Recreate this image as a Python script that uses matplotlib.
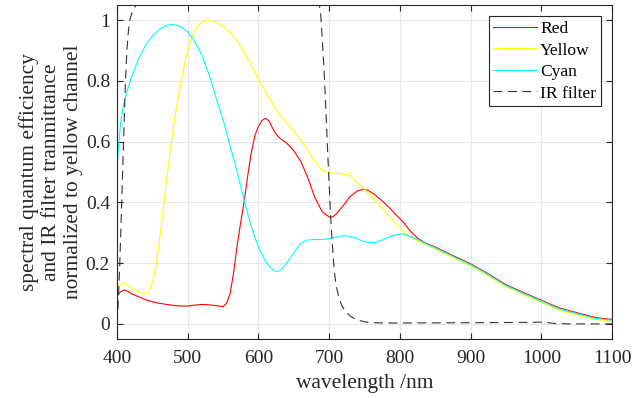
import numpy as np
import matplotlib
matplotlib.use('Agg')
import matplotlib.pyplot as plt

#region data
tail_wl = [850, 875, 900, 925, 950, 975, 1000, 1025, 1050, 1075, 1090, 1100]
tail_val = [0.250, 0.222, 0.195, 0.162, 0.126, 0.100, 0.075, 0.050, 0.034, 0.019, 0.014, 0.012]

red_wl = [400, 405, 410, 415, 420, 430, 440, 450, 460, 470, 480, 490, 500, 510, 520,
          530, 540, 550, 555, 560, 565, 570, 575, 580, 585, 590, 595, 600, 605, 610,
          615, 620, 625, 630, 640, 645, 650, 660, 670, 680, 690, 700, 705, 710, 720,
          730, 740, 748, 755, 765, 775, 785, 795, 805, 815, 825, 835]
red_val = [0.095, 0.105, 0.112, 0.108, 0.100, 0.090, 0.080, 0.073, 0.068, 0.064, 0.061,
           0.059, 0.059, 0.062, 0.064, 0.063, 0.060, 0.057, 0.068, 0.100, 0.170, 0.260,
           0.335, 0.405, 0.490, 0.565, 0.620, 0.650, 0.670, 0.677, 0.668, 0.645, 0.625,
           0.612, 0.595, 0.583, 0.570, 0.535, 0.480, 0.415, 0.370, 0.352, 0.352, 0.362,
           0.390, 0.420, 0.438, 0.443, 0.440, 0.425, 0.405, 0.383, 0.358, 0.335, 0.305,
           0.282, 0.268]

yellow_wl = [400, 405, 410, 415, 420, 430, 440, 445, 450, 455, 460, 465, 470, 475, 480,
             485, 490, 495, 500, 505, 510, 515, 520, 530, 540, 550, 560, 570, 580, 590,
             600, 610, 620, 630, 640, 650, 660, 670, 680, 690, 700, 710, 720, 730, 740,
             750, 760, 770, 780, 790, 800, 810, 820, 835]
yellow_val = [0.120, 0.130, 0.136, 0.128, 0.118, 0.105, 0.100, 0.105, 0.135, 0.190, 0.270,
              0.370, 0.470, 0.565, 0.650, 0.725, 0.790, 0.850, 0.900, 0.940, 0.967, 0.983,
              0.993, 1.000, 0.995, 0.980, 0.960, 0.932, 0.895, 0.850, 0.805, 0.765, 0.725,
              0.690, 0.660, 0.635, 0.605, 0.570, 0.535, 0.505, 0.498, 0.496, 0.494, 0.488,
              0.465, 0.443, 0.420, 0.395, 0.370, 0.340, 0.315, 0.295, 0.278, 0.263]

cyan_wl = [400, 405, 410, 420, 430, 440, 450, 460, 470, 480, 490, 500, 510, 520, 530,
           540, 550, 560, 570, 580, 590, 600, 610, 620, 626, 632, 640, 650, 660, 668,
           680, 690, 700, 710, 720, 725, 735, 745, 755, 765, 775, 785, 795, 805, 815,
           830]
cyan_val = [0.520, 0.660, 0.730, 0.810, 0.870, 0.915, 0.948, 0.970, 0.983, 0.986, 0.979,
            0.962, 0.930, 0.885, 0.823, 0.745, 0.672, 0.585, 0.500, 0.405, 0.320, 0.252,
            0.205, 0.178, 0.172, 0.178, 0.200, 0.235, 0.265, 0.276, 0.278, 0.278, 0.280,
            0.286, 0.290, 0.290, 0.285, 0.275, 0.268, 0.268, 0.276, 0.287, 0.294, 0.296,
            0.288, 0.272]

ir_wl = [400, 402, 404, 406, 408, 410, 412, 414, 416, 418, 422, 427, 435, 450, 500, 600,
         670, 680, 685, 688, 690, 692, 694, 696, 698, 700, 702, 704, 706, 708, 710, 714,
         718, 722, 730, 740, 750, 760, 780, 800, 900, 980, 1000, 1010, 1020, 1040, 1100]
ir_val = [0.000, 0.080, 0.200, 0.350, 0.500, 0.650, 0.800, 0.900, 0.960, 1.000, 1.030,
          1.050, 1.070, 1.090, 1.100, 1.100, 1.100, 1.090, 1.070, 1.020, 0.950, 0.870,
          0.780, 0.670, 0.560, 0.460, 0.360, 0.280, 0.210, 0.160, 0.125, 0.085, 0.060,
          0.045, 0.025, 0.013, 0.007, 0.004, 0.003, 0.003, 0.004, 0.005, 0.006, 0.004,
          0.001, 0.000, 0.000]

xticks = [400, 500, 600, 700, 800, 900, 1000, 1100]
yticks = [0, 0.2, 0.4, 0.6, 0.8, 1]
ytick_labels = ['0', '0.2', '0.4', '0.6', '0.8', '1']
#endregion

# the three channels share the same tail above ~850 nm
red_x = red_wl + tail_wl
red_y = red_val + [v + 0.003 for v in tail_val]
yel_x = yellow_wl + tail_wl
yel_y = yellow_val + [v - 0.004 for v in tail_val]
cyan_x = cyan_wl + tail_wl
cyan_y = cyan_val + tail_val

plt.rcParams['font.family'] = ['Liberation Serif', 'DejaVu Serif']

fig = plt.figure(figsize=(6.41, 3.98), dpi=100)
ax = fig.add_axes([0.1825, 0.148, 0.9548 - 0.1825, 0.9874 - 0.148])

ax.plot(red_x, red_y, color='#ff0000', lw=0.8, label='Red')
ax.plot(yel_x, yel_y, color='#ffff00', lw=0.8, label='Yellow')
ax.plot(cyan_x, cyan_y, color='#00ffff', lw=0.8, label='Cyan')
ax.plot(ir_wl, ir_val, color='#333333', lw=0.8, linestyle=(0, (8, 5)), label='IR filter')

ax.set_xlim(400, 1100)
ax.set_ylim(-0.05, 1.05)
ax.set_xticks(xticks)
ax.set_yticks(yticks)
ax.set_yticklabels(ytick_labels)
ax.tick_params(axis='x', pad=8)
ax.tick_params(axis='y', pad=5)
ax.tick_params(direction='in', top=True, right=True, labelsize=14, length=4,
               color='#262626', labelcolor='#262626')
ax.grid(True, color='#e6e6e6', lw=0.8)
ax.set_axisbelow(True)
for s in ax.spines.values():
    s.set_color('#262626')
    s.set_linewidth(0.8)

ax.set_xlabel('wavelength /nm', fontsize=15.4, color='#262626', labelpad=5)
ax.set_ylabel('spectral quantum efficiency\nand IR filter tranmittance\nnormalized to yellow channel',
              fontsize=15.4, color='#262626', labelpad=2, linespacing=1.2)

leg = ax.legend(loc='upper right', fontsize=12.6, frameon=True, fancybox=False,
                edgecolor='#262626', framealpha=1, borderaxespad=0.65,
                handlelength=2.5, handletextpad=0.2, labelspacing=0.3, borderpad=0.25)
leg.get_frame().set_linewidth(0.8)

plt.savefig('out.png', dpi=100)
